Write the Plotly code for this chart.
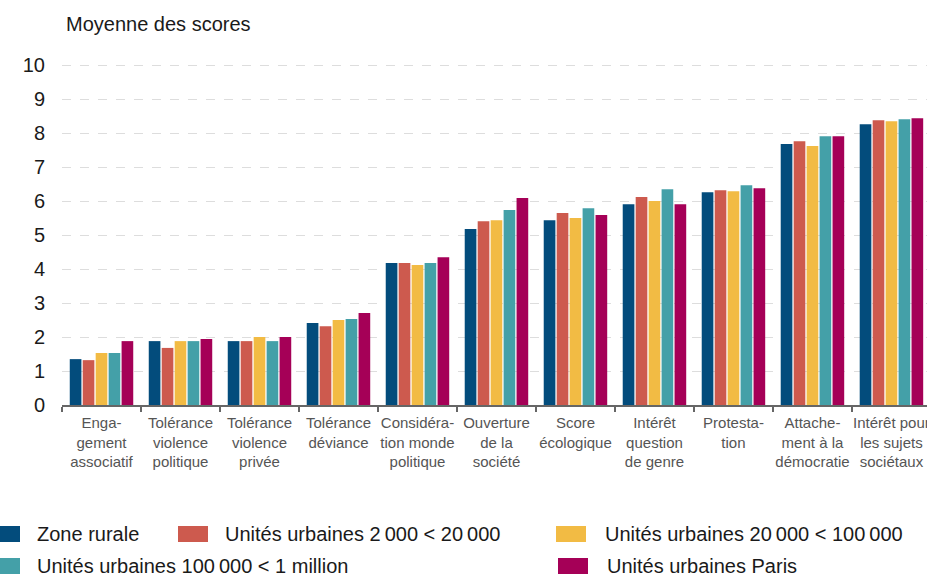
import plotly.graph_objects as go

categories = [
    "Enga-<br>gement<br>associatif",
    "Tolérance<br>violence<br>politique",
    "Tolérance<br>violence<br>privée",
    "Tolérance<br>déviance",
    "Considéra-<br>tion monde<br>politique",
    "Ouverture<br>de la<br>société",
    "Score<br>écologique",
    "Intérêt<br>question<br>de genre",
    "Protesta-<br>tion",
    "Attache-<br>ment à la<br>démocratie",
    "Intérêt pour<br>les sujets<br>sociétaux",
]

series_names = [
    "Zone rurale",
    "Unités urbaines 2\u202f000 < 20\u202f000",
    "Unités urbaines 20\u202f000 < 100\u202f000",
    "Unités urbaines 100\u202f000 < 1 million",
    "Unités urbaines Paris",
]

zone_rurale = [1.35, 1.88, 1.88, 2.41, 4.18, 5.18, 5.44, 5.91, 6.26, 7.68, 8.26]
uu_2000_20000 = [1.32, 1.68, 1.88, 2.32, 4.18, 5.41, 5.65, 6.12, 6.32, 7.76, 8.38]
uu_20000_100000 = [1.53, 1.88, 2.00, 2.50, 4.12, 5.44, 5.50, 6.00, 6.29, 7.62, 8.35]
uu_100000_1m = [1.53, 1.88, 1.88, 2.53, 4.18, 5.74, 5.79, 6.35, 6.47, 7.91, 8.41]
uu_paris = [1.88, 1.94, 2.00, 2.71, 4.35, 6.09, 5.59, 5.91, 6.38, 7.91, 8.44]

colors = ["#034c7c", "#cd5a4e", "#f2bb44", "#44a0a8", "#a50057"]
values = [zone_rurale, uu_2000_20000, uu_20000_100000, uu_100000_1m, uu_paris]

y_ticks = list(range(0, 11))

# Layout geometry (pixels)
W, H = 927, 576
ML, MR, MT, MB = 62, 0, 55, 171
PW, PH = W - ML - MR, H - MT - MB


def px_x(px):
    return (px - ML) / PW


def px_y(py):
    return (H - MB - py) / PH


fig = go.Figure()
for name, vals, col in zip(series_names, values, colors):
    fig.add_trace(go.Bar(
        x=categories, y=vals, name=name, marker_color=col,
        marker_line_width=0, showlegend=False,
    ))

# Manual legend: (square left px, row centre px, text left px)
legend_pos = [(-10, 534, 35), (178, 534, 223), (556, 534, 603), (-10, 566, 35), (558, 566, 605)]
shapes = []
annotations = []
for name, col, (sx, cy, tx) in zip(series_names, colors, legend_pos):
    shapes.append(dict(
        type="rect", xref="paper", yref="paper",
        x0=px_x(sx), x1=px_x(sx + 30), y0=px_y(cy + 8), y1=px_y(cy - 8),
        fillcolor=col, line_width=0, layer="above",
    ))
    annotations.append(dict(
        text=name, xref="paper", yref="paper", x=px_x(tx), y=px_y(cy),
        xanchor="left", yanchor="middle", showarrow=False,
        font=dict(size=20, color="#1a1a1a"),
    ))

annotations.append(dict(
    text="Moyenne des scores", xref="paper", yref="paper", x=px_x(64), y=px_y(24),
    xanchor="left", yanchor="middle", showarrow=False, font=dict(size=20, color="#1a1a1a"),
))

fig.update_layout(
    width=W, height=H,
    margin=dict(l=ML, r=MR, t=MT, b=MB, autoexpand=False),
    paper_bgcolor="white", plot_bgcolor="white",
    barmode="group", bargap=0.18, bargroupgap=0.1,
    showlegend=False,
    font=dict(family="Liberation Sans, Arial, sans-serif", color="#222"),
    xaxis=dict(
        range=[-0.5, 10.45], showgrid=False, showline=True, linecolor="#666", linewidth=2,
        ticks="outside", tickson="boundaries", ticklen=5, tickcolor="#666", tickwidth=1.5,
        tickfont=dict(size=15, color="#555"), tickangle=0, automargin=False,
        ticklabelstandoff=3,
    ),
    yaxis=dict(
        range=[0, 10.3], tickvals=y_ticks, showgrid=True, gridcolor="#dddddd", griddash="dash",
        gridwidth=1, zeroline=False, showline=False, ticks="", ticklabelstandoff=16,
        tickfont=dict(size=20, color="#1a1a1a"), automargin=False,
    ),
    shapes=shapes,
    annotations=annotations,
)

fig.write_html(
    "out.html",
    config={"displayModeBar": False},
    post_script="document.body.style.margin='0';document.body.style.overflow='hidden';",
)
